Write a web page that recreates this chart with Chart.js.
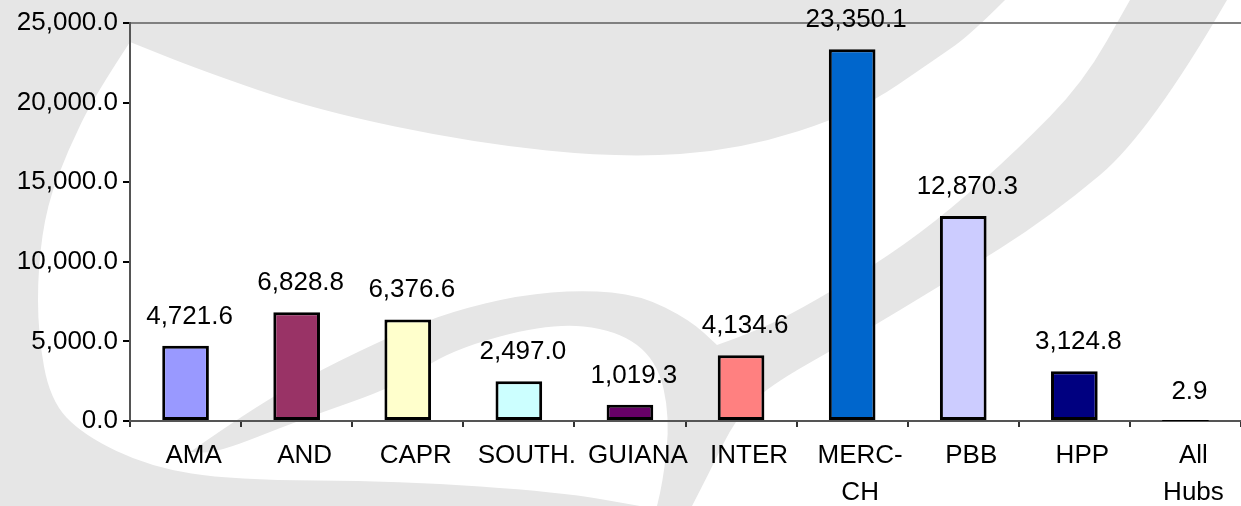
<!DOCTYPE html>
<html lang="en">
<head>
    <meta charset="UTF-8">
    <title>Hubs Chart</title>
    <script src="https://cdn.jsdelivr.net/npm/chart.js"></script>
    <style>
        html, body { margin: 0; padding: 0; background: #fff; }
        canvas { display: block; }
    </style>
</head>
<body>
    <canvas id="myChart" width="1241" height="506"></canvas>

    <script>
        // Chart data
        const categories = ['AMA', 'AND', 'CAPR', 'SOUTH.', 'GUIANA', 'INTER', ['MERC-', 'CH'], 'PBB', 'HPP', ['All', 'Hubs']];
        const values = [4721.6, 6828.8, 6376.6, 2497.0, 1019.3, 4134.6, 23350.1, 12870.3, 3124.8, 2.9];
        const barColors = ['#9999FF', '#993366', '#FFFFCC', '#CCFFFF', '#660066', '#FF8080', '#0066CC', '#CCCCFF', '#000080', '#FF00FF'];
        const yTicks = [0, 5000, 10000, 15000, 20000, 25000];

        const FONT = "'Liberation Sans', Arial, sans-serif";

        function fmt(v) {
            return v.toLocaleString('en-US', { minimumFractionDigits: 1, maximumFractionDigits: 1 });
        }

        // draw a smooth curve through points (continues current path)
        function smooth(ctx, pts) {
            ctx.lineTo(pts[0][0], pts[0][1]);
            for (let i = 1; i < pts.length - 1; i++) {
                const mx = (pts[i][0] + pts[i + 1][0]) / 2;
                const my = (pts[i][1] + pts[i + 1][1]) / 2;
                ctx.quadraticCurveTo(pts[i][0], pts[i][1], mx, my);
            }
            const last = pts[pts.length - 1];
            ctx.lineTo(last[0], last[1]);
        }

        // grey watermark behind the chart
        const watermark = {
            id: 'watermark',
            beforeDraw(chart) {
                const ctx = chart.ctx;
                ctx.save();
                ctx.fillStyle = '#ffffff';
                ctx.fillRect(0, 0, chart.width, chart.height);
                ctx.fillStyle = '#e6e6e6';

                // outer C shape
                ctx.beginPath();
                ctx.moveTo(0, 0);
                smooth(ctx, [[1005, 0], [970, 35], [937, 58], [858, 112], [740, 150], [620, 158], [474, 143], [316, 110], [200, 70], [130, 42]]);
                smooth(ctx, [[130, 42], [95, 95], [68, 150], [47, 205], [38, 267], [38, 333], [50, 400], [83, 435], [150, 467], [233, 480], [400, 481], [560, 492], [640, 506]]);
                ctx.lineTo(0, 506);
                ctx.closePath();
                ctx.fill();

                // inner swoosh
                ctx.beginPath();
                ctx.moveTo(190, 452);
                smooth(ctx, [[190, 452], [250, 410], [320, 370], [400, 332], [450, 312], [520, 295], [583, 290], [640, 295], [690, 320], [717, 345]]);
                smooth(ctx, [[717, 345], [760, 330], [817, 300], [890, 255], [950, 210], [1017, 150], [1083, 83], [1130, 0]]);
                ctx.lineTo(1227, 0);
                smooth(ctx, [[1227, 0], [1150, 133], [1050, 217], [950, 280], [850, 340], [767, 387], [735, 420], [712, 467], [692, 506]]);
                ctx.lineTo(657, 506);
                smooth(ctx, [[657, 506], [663, 483], [670, 417], [657, 360], [617, 330], [550, 323], [450, 350], [400, 385], [300, 420], [217, 453], [190, 452]]);
                ctx.closePath();
                ctx.fill();
                ctx.restore();
            }
        };

        // value labels above bars
        const valueLabels = {
            id: 'valueLabels',
            afterDatasetsDraw(chart) {
                const ctx = chart.ctx;
                const meta = chart.getDatasetMeta(0);
                ctx.save();
                ctx.font = '26px ' + FONT;
                ctx.fillStyle = '#000';
                ctx.textAlign = 'center';
                ctx.textBaseline = 'alphabetic';
                meta.data.forEach((bar, i) => {
                    ctx.fillText(fmt(values[i]), bar.x + 4, bar.y - 22);
                });
                ctx.restore();
            }
        };

        const config = {
            type: 'bar',
            data: {
                labels: categories,
                datasets: [{
                    data: values,
                    backgroundColor: barColors,
                    borderColor: '#000',
                    borderWidth: 3,
                    borderSkipped: false,
                    categoryPercentage: 1,
                    barPercentage: 0.42
                }]
            },
            options: {
                responsive: false,
                animation: false,
                devicePixelRatio: 1,
                layout: { padding: { top: 23, right: 0, left: 0, bottom: 0 } },
                plugins: {
                    legend: { display: false },
                    tooltip: { enabled: false }
                },
                scales: {
                    x: {
                        afterFit(scale) { scale.height = 85; },
                        grid: {
                            offset: true,
                            drawOnChartArea: false,
                            tickLength: 6,
                            tickColor: '#333',
                            lineWidth: 2
                        },
                        border: { color: '#555', width: 2 },
                        ticks: {
                            color: '#000',
                            maxRotation: 0,
                            autoSkip: false,
                            padding: 10,
                            labelOffset: 8,
                            font: { family: FONT, size: 26, lineHeight: 1.42 }
                        }
                    },
                    y: {
                        min: 0,
                        max: 25000,
                        afterFit(scale) { scale.width = 130; },
                        afterBuildTicks(scale) { scale.ticks = yTicks.map(v => ({ value: v })); },
                        grid: {
                            color: c => (c.tick && c.tick.value === 25000) ? '#808080' : 'rgba(0,0,0,0)',
                            tickColor: '#000',
                            tickLength: 7,
                            lineWidth: 2
                        },
                        border: { color: '#555', width: 2 },
                        ticks: {
                            color: '#000',
                            padding: 5,
                            font: { family: FONT, size: 26 },
                            callback: v => fmt(v)
                        }
                    }
                }
            },
            plugins: [watermark, valueLabels]
        };

        var myChart = new Chart(document.getElementById('myChart'), config);
    </script>
</body>
</html>
